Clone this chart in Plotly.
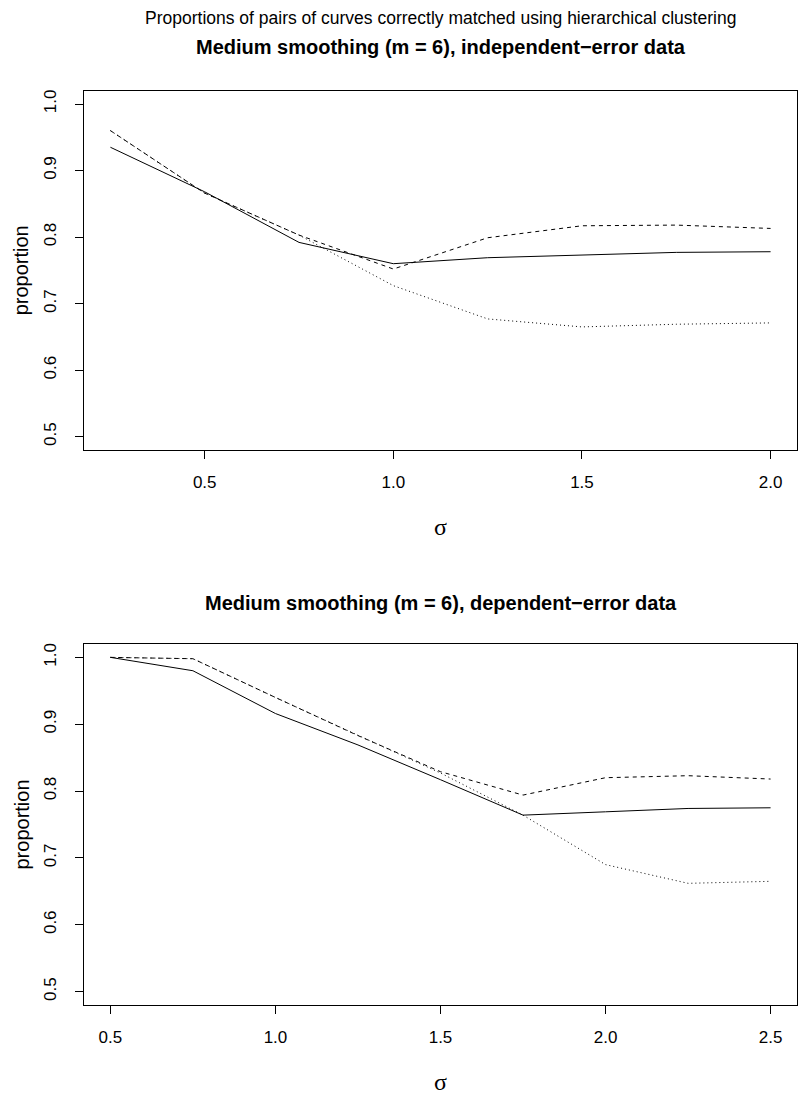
import plotly.graph_objects as go

# ---- data ----
sigma_indep = [0.25, 0.5, 0.75, 1.0, 1.25, 1.5, 1.75, 2.0]
indep_solid = [0.935, 0.868, 0.792, 0.760, 0.769, 0.773, 0.777, 0.778]
indep_dashed = [0.960, 0.866, 0.803, 0.752, 0.799, 0.817, 0.818, 0.813]
indep_dotted = [0.960, 0.866, 0.803, 0.727, 0.677, 0.665, 0.669, 0.671]

sigma_dep = [0.5, 0.75, 1.0, 1.25, 1.5, 1.75, 2.0, 2.25, 2.5]
dep_solid = [1.0, 0.980, 0.916, 0.869, 0.817, 0.764, 0.769, 0.774, 0.775]
dep_dashed = [1.0, 0.998, 0.940, 0.883, 0.829, 0.794, 0.820, 0.823, 0.818]
dep_dotted = [1.0, 0.998, 0.940, 0.883, 0.827, 0.764, 0.690, 0.662, 0.665]

y_ticks = [0.5, 0.6, 0.7, 0.8, 0.9, 1.0]
y_ticklabels = ["0.5", "0.6", "0.7", "0.8", "0.9", "1.0"]
x_ticks_top = [0.5, 1.0, 1.5, 2.0]
x_ticks_bot = [0.5, 1.0, 1.5, 2.0, 2.5]

outer_title = "Proportions of pairs of curves correctly matched using hierarchical clustering"
title_top = "<b>Medium smoothing (m = 6), independent\u2212error data</b>"
title_bot = "<b>Medium smoothing (m = 6), dependent\u2212error data</b>"

W, H = 801, 1099
FONT = "Liberation Sans, Arial, Helvetica, sans-serif"

fig = go.Figure()

def add_lines(x, ys, xa, ya):
    dashes = ["solid", "4px,4px", "1px,3px"]
    for y, d in zip(ys, dashes):
        fig.add_trace(go.Scatter(x=x, y=y, mode="lines", xaxis=xa, yaxis=ya,
                                 line=dict(color="black", width=1, dash=d),
                                 showlegend=False, hoverinfo="skip"))

add_lines(sigma_indep, [indep_solid, indep_dashed, indep_dotted], "x", "y")
add_lines(sigma_dep, [dep_solid, dep_dashed, dep_dotted], "x2", "y2")

xdom = [84 / W, 797 / W]
top_dom = [1 - 450 / H, 1 - 90.7 / H]
bot_dom = [1 - 1005 / H, 1 - 644 / H]

axis_common = dict(showline=True, linecolor="black", linewidth=1, mirror=True,
                   ticks="outside", ticklen=8, tickwidth=1, tickcolor="black",
                   showgrid=False, zeroline=False,
                   tickfont=dict(family=FONT, size=17, color="black"))

fig.update_layout(
    width=W, height=H, margin=dict(l=0, r=0, t=0, b=0),
    paper_bgcolor="white", plot_bgcolor="white", showlegend=False,
    xaxis=dict(domain=xdom, anchor="y", range=[0.18, 2.07], tickvals=x_ticks_top,
               ticktext=[f"{v:.1f}" for v in x_ticks_top], ticklabelstandoff=9, **axis_common),
    yaxis=dict(domain=top_dom, anchor="x", range=[0.48, 1.02], tickvals=y_ticks,
               ticktext=y_ticklabels, tickangle=-90, ticklabelstandoff=12, **axis_common),
    xaxis2=dict(domain=xdom, anchor="y2", range=[0.42, 2.58], tickvals=x_ticks_bot,
                ticktext=[f"{v:.1f}" for v in x_ticks_bot], ticklabelstandoff=9, **axis_common),
    yaxis2=dict(domain=bot_dom, anchor="x2", range=[0.48, 1.02], tickvals=y_ticks,
                ticktext=y_ticklabels, tickangle=-90, ticklabelstandoff=12, **axis_common),
)

def ann(text, x, ypx, size, family=FONT, angle=0):
    fig.add_annotation(text=text, x=x, y=1 - ypx / H, xref="paper", yref="paper",
                       xanchor="center", yanchor="middle", showarrow=False, textangle=angle,
                       font=dict(family=family, size=size, color="black"))

cx = (84 + 797) / 2 / W
ann(outer_title, cx, 18.5, 17.5)
ann(title_top, cx, 47, 20)
ann(title_bot, cx, 603, 20)
ann("\u03c3", cx, 527, 24, family="Liberation Serif, DejaVu Serif, serif")
ann("\u03c3", cx, 1082, 24, family="Liberation Serif, DejaVu Serif, serif")
ann("proportion", 21 / W, (90.7 + 450) / 2, 20, angle=-90)
ann("proportion", 21 / W, (644 + 1005) / 2, 20, angle=-90)

fig.write_html("out.html")
